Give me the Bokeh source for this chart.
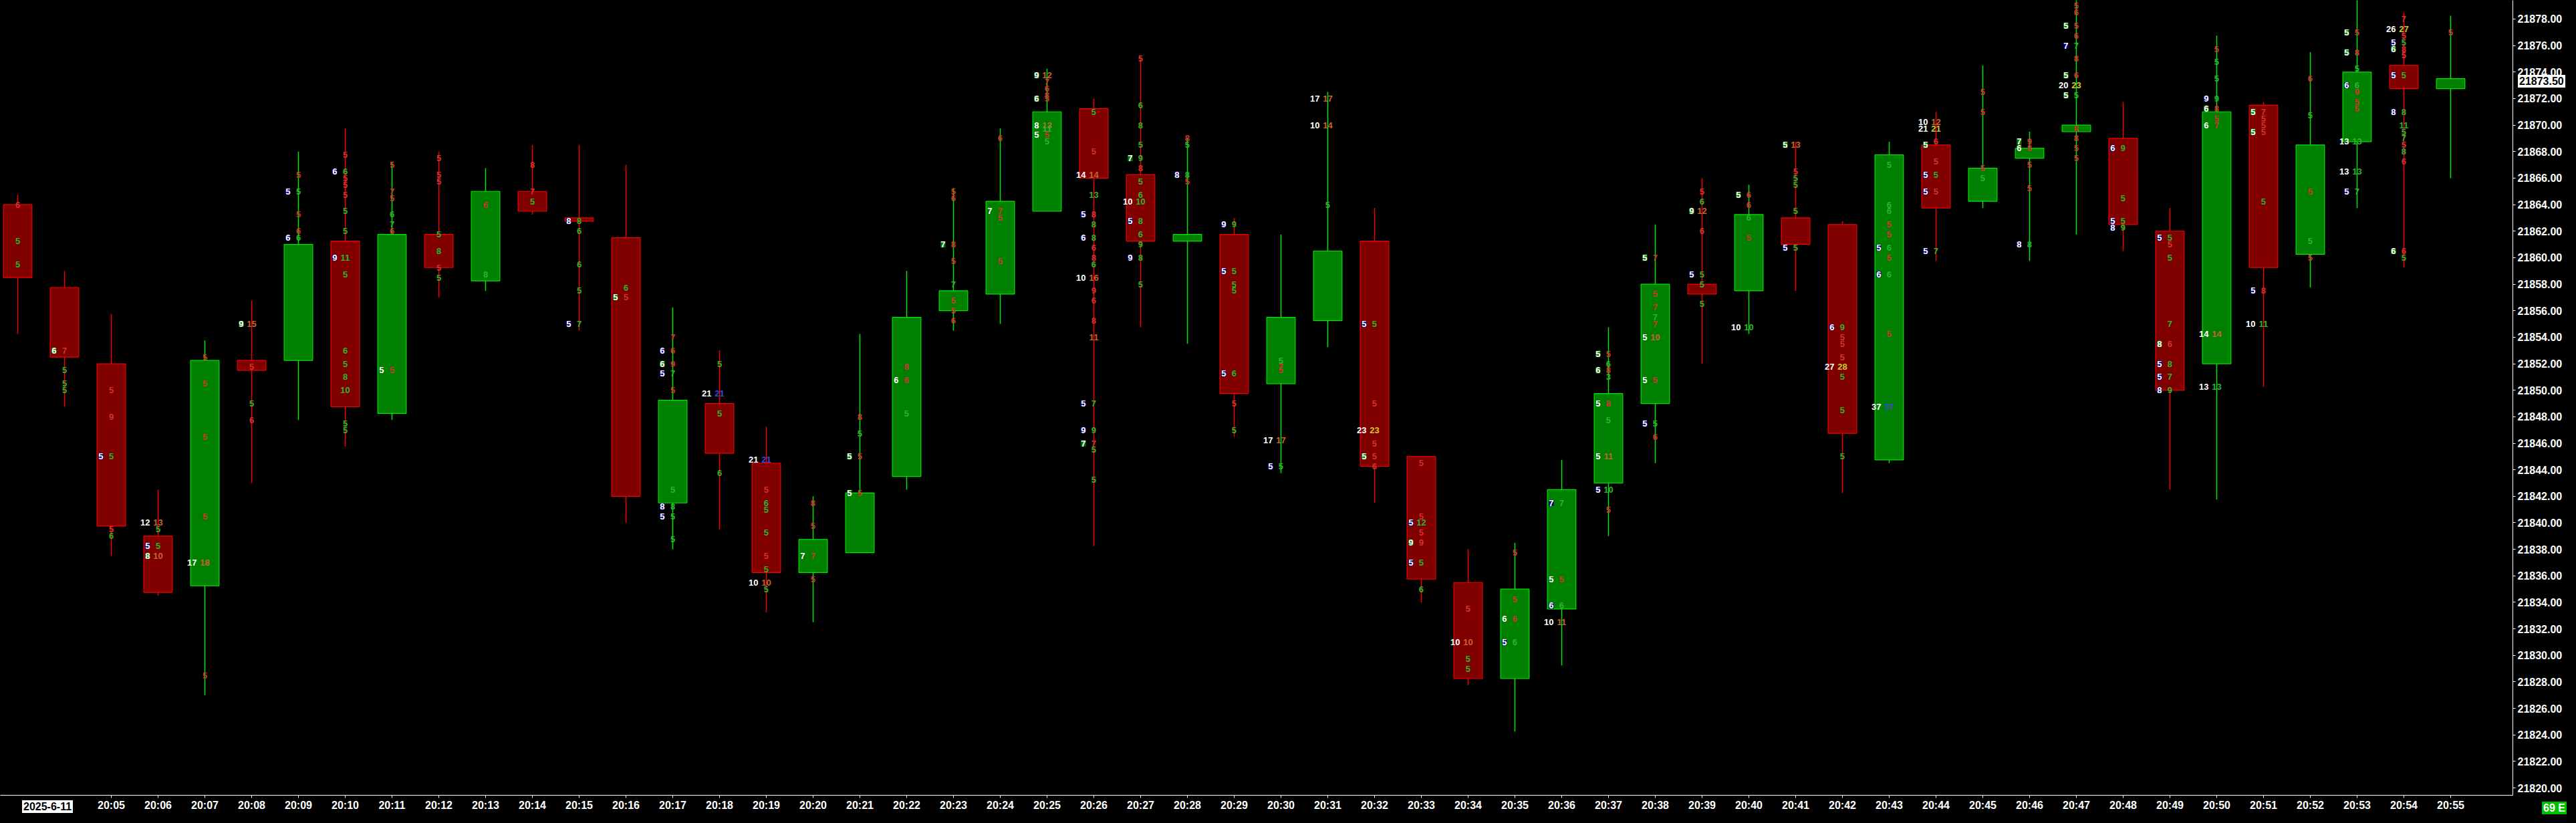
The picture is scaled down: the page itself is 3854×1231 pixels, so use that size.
from bokeh.core.properties import value
from bokeh.embed import file_html
from bokeh.layouts import column
from bokeh.models import (ColumnDataSource, Div, FixedTicker, GlobalInlineStyleSheet,
                          NumeralTickFormatter, Range1d)
from bokeh.plotting import figure
from bokeh.resources import INLINE

# one-minute bars, 20:03 .. 20:55 (2025-6-11)
times = ["20:%02d" % m for m in range(3, 56)]
opens = [21864, 21857.75, 21852, 21839, 21835.25, 21852.25, 21852.25, 21861.25, 21848.25, 21861.75,
         21858.25, 21865, 21863, 21861.5, 21841.5, 21849, 21844.5, 21836.25, 21837.75, 21843.5,
         21856, 21857.25, 21863.5, 21871.25, 21866.25, 21861.25, 21861.75, 21850.5, 21855.25, 21861.25,
         21845, 21835.5, 21828.25, 21833.5, 21843, 21849, 21858, 21857.5, 21863, 21862.5,
         21844.75, 21868.5, 21864.25, 21867.5, 21869.5, 21869, 21862, 21852, 21871.5, 21860.25,
         21868.75, 21874.5, 21872.75]
highs = [21864.75, 21859, 21855.75, 21842.5, 21853.75, 21856.75, 21868, 21869.75, 21867.25, 21868,
         21866.75, 21868.5, 21868.5, 21867, 21856.25, 21853, 21847.25, 21842, 21854.25, 21859,
         21865.25, 21869.75, 21874.25, 21872, 21875.25, 21869, 21863, 21861.75, 21872.5, 21863.75,
         21845, 21838, 21838.5, 21844.75, 21854.75, 21862.5, 21866, 21865.5, 21868.75, 21862.75,
         21868.75, 21871, 21874.5, 21869.5, 21880, 21871.75, 21863.75, 21876.75, 21871.75, 21875.5,
         21879.5, 21878.5, 21878.25]
lows = [21854.25, 21848.75, 21837.5, 21834.5, 21827, 21843, 21847.75, 21845.75, 21847.75, 21857,
        21857.5, 21863.25, 21854.5, 21840, 21838, 21839.5, 21833.25, 21832.5, 21837.75, 21842.5,
        21854.5, 21855, 21863.5, 21838.25, 21854.75, 21853.5, 21846.5, 21843.75, 21853.25, 21841.5,
        21834, 21827.75, 21824.25, 21829.25, 21839, 21844.5, 21852, 21854.25, 21857.5, 21842.25,
        21844.5, 21859.75, 21863.75, 21859.75, 21861.75, 21860.5, 21842.5, 21841.75, 21850.25, 21857.75,
        21863.75, 21859.25, 21866]
closes = [21858.5, 21852.5, 21839.75, 21834.75, 21852.25, 21851.5, 21861, 21848.75, 21861.75, 21859.25,
          21865, 21863.5, 21862.75, 21842, 21849.25, 21845.25, 21836.25, 21838.75, 21842.25, 21855.5,
          21857.5, 21864.25, 21871, 21866, 21861.25, 21861.75, 21849.75, 21855.5, 21860.5, 21844.25,
          21835.75, 21828.25, 21835, 21842.5, 21849.75, 21858, 21857.25, 21863.25, 21861, 21846.75,
          21867.75, 21863.75, 21866.75, 21868.25, 21870, 21862.5, 21850, 21871, 21859.25, 21868.5,
          21874, 21872.75, 21873.5]

last_price = "21873.50"
status_text = "69 E"
date_text = "2025-6-11"

# footprint volumes printed at the bar centre: (bar, price, text, colour)
centre_labels = [
    (0, 21864, "6", "r"), (0, 21861.25, "5", "g"), (0, 21859.5, "5", "g"),
    (1, 21853, "7", "r"), (1, 21851.5, "5", "g"), (1, 21850.5, "5", "g"), (1, 21850, "5", "g"),
    (2, 21850, "5", "r"), (2, 21848, "9", "r"), (2, 21845, "5", "g"), (2, 21839.5, "5", "r"), (2, 21839, "6", "g"),
    (3, 21840, "13", "o"), (3, 21839.5, "5", "g"), (3, 21838.25, "5", "g"), (3, 21837.5, "10", "o"),
    (4, 21852.5, "5", "r"), (4, 21850.5, "5", "r"), (4, 21846.5, "5", "r"), (4, 21840.5, "5", "r"),
    (4, 21837, "18", "o"), (4, 21828.5, "5", "r"),
    (5, 21855, "15", "o"), (5, 21851.75, "5", "r"), (5, 21849, "5", "g"), (5, 21847.75, "6", "r"),
    (6, 21866.25, "5", "r"), (6, 21865, "5", "g"), (6, 21863.25, "5", "r"), (6, 21862, "6", "r"), (6, 21861.5, "6", "g"),
    (7, 21867.75, "5", "r"), (7, 21866.5, "6", "g"), (7, 21866, "5", "r"), (7, 21865.5, "5", "r"), (7, 21864.75, "5", "r"),
    (7, 21863.5, "5", "g"), (7, 21862, "5", "g"), (7, 21860, "11", "g"), (7, 21858.75, "5", "g"), (7, 21853, "6", "g"),
    (7, 21852, "5", "g"), (7, 21851, "8", "g"), (7, 21850, "10", "g"), (7, 21847.5, "5", "g"), (7, 21847, "5", "g"),
    (8, 21867, "5", "r"), (8, 21865, "7", "r"), (8, 21864.5, "5", "r"), (8, 21863.25, "6", "g"), (8, 21862.5, "7", "g"),
    (8, 21862, "6", "r"), (8, 21851.5, "5", "r"),
    (9, 21867.5, "5", "r"), (9, 21866.25, "5", "r"), (9, 21865.75, "5", "r"), (9, 21861.75, "5", "g"),
    (9, 21860.5, "8", "g"), (9, 21859.25, "5", "r"), (9, 21858.5, "5", "g"),
    (10, 21864, "6", "r"), (10, 21858.75, "8", "g"),
    (11, 21867, "8", "r"), (11, 21865, "7", "r"), (11, 21864.25, "5", "g"),
    (12, 21862.75, "8", "g"), (12, 21862, "6", "g"), (12, 21859.5, "6", "g"), (12, 21857.5, "5", "g"), (12, 21855, "7", "g"),
    (13, 21857.75, "6", "g"), (13, 21857, "5", "r"),
    (14, 21854, "7", "r"), (14, 21853, "6", "r"), (14, 21852, "9", "r"), (14, 21851.25, "7", "g"), (14, 21850, "5", "r"),
    (14, 21842.5, "5", "g"), (14, 21841.25, "8", "g"), (14, 21840.5, "5", "g"), (14, 21838.75, "5", "g"),
    (15, 21852, "5", "g"), (15, 21849.75, "21", "b"), (15, 21848.25, "5", "g"), (15, 21843.75, "6", "g"),
    (16, 21844.75, "21", "b"), (16, 21842.5, "5", "r"), (16, 21841.5, "6", "g"), (16, 21841, "5", "g"),
    (16, 21839.25, "5", "g"), (16, 21837.5, "5", "r"), (16, 21836.5, "5", "g"), (16, 21835.5, "10", "o"), (16, 21835, "5", "g"),
    (17, 21841.5, "8", "r"), (17, 21839.75, "5", "r"), (17, 21837.5, "7", "r"), (17, 21835.75, "5", "r"),
    (18, 21848, "8", "r"), (18, 21846.75, "5", "g"), (18, 21845, "5", "r"), (18, 21842.25, "5", "r"),
    (19, 21851.75, "8", "r"), (19, 21850.75, "6", "r"), (19, 21848.25, "5", "g"),
    (20, 21865, "5", "r"), (20, 21864.5, "6", "r"), (20, 21861, "8", "r"), (20, 21859.75, "5", "r"), (20, 21858, "7", "g"),
    (20, 21856.75, "5", "r"), (20, 21856, "5", "r"), (20, 21855.25, "6", "r"),
    (21, 21869, "6", "r"), (21, 21863.5, "7", "r"), (21, 21863, "5", "r"), (21, 21859.75, "5", "r"),
    (22, 21873.75, "12", "o"), (22, 21873.25, "7", "r"), (22, 21872.75, "6", "r"), (22, 21872.25, "8", "r"),
    (22, 21872, "5", "r"), (22, 21870, "13", "o"), (22, 21869.75, "11", "g"), (22, 21869.25, "5", "r"), (22, 21868.75, "5", "g"),
    (23, 21871, "5", "g"), (23, 21868, "5", "r"), (23, 21866.25, "14", "o"), (23, 21864.75, "13", "g"), (23, 21863.25, "8", "r"),
    (23, 21862.5, "8", "g"), (23, 21861.5, "8", "g"), (23, 21860.75, "6", "r"), (23, 21860, "8", "r"), (23, 21859.5, "6", "g"),
    (23, 21858.5, "16", "o"), (23, 21857.5, "9", "r"), (23, 21856.75, "6", "r"), (23, 21855.25, "8", "r"), (23, 21854, "11", "o"),
    (23, 21849, "7", "g"), (23, 21847, "9", "g"), (23, 21846, "7", "r"), (23, 21845.5, "5", "g"), (23, 21843.25, "5", "g"),
    (24, 21875, "5", "r"), (24, 21871.5, "6", "g"), (24, 21870, "8", "g"), (24, 21868.5, "5", "g"), (24, 21867.5, "9", "g"),
    (24, 21866.75, "8", "r"), (24, 21865.75, "5", "g"), (24, 21864.75, "6", "g"), (24, 21864.25, "10", "g"),
    (24, 21862.75, "8", "g"), (24, 21861.75, "6", "g"), (24, 21861, "9", "g"), (24, 21860, "8", "g"), (24, 21858, "5", "g"),
    (25, 21869, "8", "r"), (25, 21868.5, "5", "g"), (25, 21866.25, "8", "g"), (25, 21865.75, "5", "r"),
    (26, 21862.5, "9", "g"), (26, 21859, "5", "g"), (26, 21858, "5", "g"), (26, 21857.5, "5", "g"),
    (26, 21851.25, "6", "g"), (26, 21849, "5", "r"), (26, 21847, "5", "g"),
    (27, 21852.25, "5", "g"), (27, 21851.75, "7", "r"), (27, 21851.5, "5", "r"), (27, 21846.25, "17", "o"), (27, 21844.25, "5", "g"),
    (28, 21872, "17", "o"), (28, 21870, "14", "o"), (28, 21864, "5", "g"),
    (29, 21855, "5", "g"), (29, 21849, "5", "r"), (29, 21847, "23", "y"), (29, 21846, "5", "r"), (29, 21845, "5", "r"), (29, 21844.25, "6", "r"),
    (30, 21844.5, "5", "r"), (30, 21840.5, "5", "r"), (30, 21840, "12", "g"), (30, 21839.25, "5", "r"),
    (30, 21838.5, "9", "r"), (30, 21837, "5", "g"), (30, 21835, "6", "g"),
    (31, 21833.5, "5", "r"), (31, 21831, "10", "o"), (31, 21829.75, "5", "g"), (31, 21829, "5", "g"),
    (32, 21837.75, "5", "r"), (32, 21834.25, "5", "r"), (32, 21832.75, "6", "r"), (32, 21831, "6", "g"),
    (33, 21841.5, "7", "g"), (33, 21835.75, "5", "r"), (33, 21833.75, "6", "g"), (33, 21832.5, "11", "o"),
    (34, 21852.75, "5", "r"), (34, 21852, "6", "g"), (34, 21851.5, "8", "r"), (34, 21851, "3", "g"), (34, 21849, "8", "r"),
    (34, 21847.75, "5", "g"), (34, 21845, "11", "o"), (34, 21842.5, "10", "g"), (34, 21841, "5", "r"),
    (35, 21860, "7", "r"), (35, 21857.25, "5", "r"), (35, 21856.25, "7", "r"), (35, 21855.5, "7", "g"), (35, 21855, "7", "r"),
    (35, 21854, "10", "o"), (35, 21850.75, "5", "r"), (35, 21847.5, "5", "g"), (35, 21846.5, "6", "r"),
    (36, 21865, "5", "r"), (36, 21864.25, "6", "g"), (36, 21863.5, "12", "o"), (36, 21862, "6", "r"),
    (36, 21858.75, "5", "g"), (36, 21858, "5", "g"), (36, 21856.5, "5", "g"),
    (37, 21864.75, "6", "r"), (37, 21864, "6", "r"), (37, 21863, "6", "g"), (37, 21861.5, "5", "r"), (37, 21854.75, "10", "g"),
    (38, 21868.5, "13", "o"), (38, 21866.5, "5", "r"), (38, 21866, "5", "g"), (38, 21865.5, "5", "g"),
    (38, 21863.5, "5", "g"), (38, 21860.75, "5", "g"),
    (39, 21854.75, "9", "g"), (39, 21854, "5", "r"), (39, 21853.5, "5", "r"), (39, 21852.5, "5", "r"),
    (39, 21851.75, "28", "y"), (39, 21851, "5", "g"), (39, 21848.5, "5", "g"), (39, 21845, "5", "g"),
    (40, 21867, "5", "g"), (40, 21864, "6", "g"), (40, 21863.5, "6", "g"), (40, 21862.5, "5", "r"), (40, 21861.75, "5", "r"),
    (40, 21860.75, "6", "g"), (40, 21860, "5", "r"), (40, 21858.75, "6", "g"), (40, 21854.25, "5", "r"), (40, 21848.75, "37", "b"),
    (41, 21870.25, "12", "o"), (41, 21869.75, "21", "y"), (41, 21868.75, "6", "r"), (41, 21867.25, "5", "r"),
    (41, 21866.25, "5", "g"), (41, 21865, "5", "r"), (41, 21860.5, "7", "g"),
    (42, 21872.5, "5", "r"), (42, 21871, "5", "r"), (42, 21866.75, "5", "r"), (42, 21866, "5", "g"),
    (43, 21868.75, "9", "r"), (43, 21868.25, "8", "r"), (43, 21867, "5", "r"), (43, 21865.25, "5", "r"), (43, 21861, "8", "g"),
    (44, 21879, "5", "r"), (44, 21878.5, "6", "r"), (44, 21877.5, "5", "r"), (44, 21876.75, "6", "r"), (44, 21876, "7", "g"),
    (44, 21875, "8", "r"), (44, 21873.75, "6", "r"), (44, 21873, "23", "y"), (44, 21872.25, "5", "g"),
    (44, 21869.75, "8", "r"), (44, 21869, "8", "r"), (44, 21868.25, "5", "r"), (44, 21867.5, "5", "r"),
    (45, 21868.25, "9", "g"), (45, 21864.5, "5", "g"), (45, 21862.75, "5", "g"), (45, 21862.25, "9", "g"),
    (46, 21861.5, "5", "g"), (46, 21861, "5", "r"), (46, 21860, "5", "g"), (46, 21855, "7", "g"), (46, 21853.5, "6", "r"),
    (46, 21852, "8", "g"), (46, 21851, "7", "g"), (46, 21850, "9", "g"),
    (47, 21875.75, "5", "r"), (47, 21874.75, "5", "g"), (47, 21873.5, "5", "g"), (47, 21872, "9", "g"), (47, 21871.25, "8", "r"),
    (47, 21870.5, "5", "r"), (47, 21870, "7", "r"), (47, 21854.25, "14", "o"), (47, 21850.25, "13", "g"),
    (48, 21871, "7", "r"), (48, 21870.5, "5", "r"), (48, 21870, "5", "r"), (48, 21869.5, "5", "r"), (48, 21864.25, "5", "g"),
    (48, 21857.5, "8", "r"), (48, 21855, "11", "g"),
    (49, 21873.5, "6", "r"), (49, 21870.75, "5", "g"), (49, 21865, "5", "r"), (49, 21861.25, "5", "g"), (49, 21860, "5", "r"),
    (50, 21877, "5", "r"), (50, 21875.5, "8", "r"), (50, 21874.25, "5", "g"), (50, 21873, "6", "g"), (50, 21872.5, "9", "r"),
    (50, 21871.75, "5", "r"), (50, 21871.25, "5", "r"), (50, 21868.75, "13", "g"), (50, 21866.5, "13", "g"), (50, 21865, "7", "g"),
    (51, 21878, "7", "r"), (51, 21877.25, "27", "y"), (51, 21876.75, "5", "r"), (51, 21876.25, "5", "g"), (51, 21875.75, "8", "r"),
    (51, 21875.25, "5", "r"), (51, 21873.75, "5", "g"), (51, 21871, "8", "g"), (51, 21870, "11", "g"), (51, 21869.5, "5", "g"),
    (51, 21869, "7", "g"), (51, 21868.5, "5", "r"), (51, 21868, "8", "g"), (51, 21867.25, "6", "r"), (51, 21860.5, "6", "r"),
    (51, 21860, "5", "g"),
    (52, 21877, "5", "r"),
]

# volumes printed at the left edge of the bar: (bar, price, text, box)
left_labels = [
    (1, 21853, "6", "g"), (2, 21845, "5", "n"), (3, 21840, "12", ""), (3, 21838.25, "5", "n"), (3, 21837.5, "8", "g"),
    (4, 21837, "17", ""), (5, 21855, "9", "g"), (6, 21865, "5", "n"), (6, 21861.5, "6", "n"),
    (7, 21866.5, "6", "n"), (7, 21860, "9", "n"), (8, 21851.5, "5", "g"), (12, 21862.75, "8", "n"), (12, 21855, "5", "n"),
    (13, 21857, "5", "g"), (14, 21853, "6", "n"), (14, 21852, "6", "g"), (14, 21851.25, "5", "n"), (14, 21841.25, "8", "n"),
    (14, 21840.5, "5", "n"), (15, 21849.75, "21", ""), (16, 21844.75, "21", ""), (16, 21835.5, "10", ""),
    (17, 21837.5, "7", "g"), (18, 21845, "5", "g"), (18, 21842.25, "5", "g"), (19, 21850.75, "6", "g"),
    (20, 21861, "7", "g"), (21, 21863.5, "7", "g"), (22, 21873.75, "9", "g"), (22, 21872, "6", "g"), (22, 21870, "8", "g"),
    (22, 21869.25, "5", "g"), (23, 21866.25, "14", ""), (23, 21863.25, "5", "n"), (23, 21861.5, "6", "n"),
    (23, 21858.5, "10", ""), (23, 21849, "5", "n"), (23, 21847, "9", "n"), (23, 21846, "7", "g"),
    (24, 21867.5, "7", "g"), (24, 21864.25, "10", ""), (24, 21862.75, "5", "n"), (24, 21860, "9", "n"),
    (25, 21866.25, "8", "n"), (26, 21862.5, "9", "n"), (26, 21859, "5", "n"), (26, 21851.25, "5", "n"),
    (27, 21846.25, "17", ""), (27, 21844.25, "5", "n"), (28, 21872, "17", ""), (28, 21870, "10", ""),
    (29, 21855, "5", "n"), (29, 21847, "23", ""), (29, 21845, "5", "g"), (30, 21840, "5", "n"), (30, 21838.5, "9", "g"),
    (30, 21837, "5", "n"), (31, 21831, "10", ""), (32, 21832.75, "6", "g"), (32, 21831, "5", "n"),
    (33, 21841.5, "7", "n"), (33, 21835.75, "5", "g"), (33, 21833.75, "6", "n"), (33, 21832.5, "10", ""),
    (34, 21852.75, "5", "g"), (34, 21851.5, "6", "g"), (34, 21849, "5", "g"), (34, 21845, "5", "g"), (34, 21842.5, "5", "n"),
    (35, 21860, "5", "g"), (35, 21854, "5", "g"), (35, 21850.75, "5", "g"), (35, 21847.5, "5", "n"),
    (36, 21863.5, "9", "g"), (36, 21858.75, "5", "n"), (37, 21864.75, "5", "g"), (37, 21854.75, "10", ""),
    (38, 21868.5, "5", "g"), (38, 21860.75, "5", "n"), (39, 21854.75, "6", "n"), (39, 21851.75, "27", ""),
    (40, 21860.75, "5", "n"), (40, 21858.75, "6", "n"), (40, 21848.75, "37", ""),
    (41, 21870.25, "10", ""), (41, 21869.75, "21", ""), (41, 21868.5, "5", "g"), (41, 21866.25, "5", "n"),
    (41, 21865, "5", "n"), (41, 21860.5, "5", "n"), (43, 21868.75, "7", "g"), (43, 21868.25, "6", "g"), (43, 21861, "8", "n"),
    (44, 21877.5, "5", "g"), (44, 21876, "7", "n"), (44, 21873.75, "5", "g"), (44, 21873, "20", ""), (44, 21872.25, "5", "g"),
    (45, 21868.25, "6", "n"), (45, 21862.75, "5", "n"), (45, 21862.25, "8", "n"),
    (46, 21861.5, "5", "n"), (46, 21853.5, "8", "g"), (46, 21852, "5", "n"), (46, 21851, "5", "n"), (46, 21850, "8", "n"),
    (47, 21872, "9", "n"), (47, 21871.25, "6", "g"), (47, 21870, "6", "g"), (47, 21854.25, "14", ""), (47, 21850.25, "13", ""),
    (48, 21871, "5", "g"), (48, 21869.5, "5", "g"), (48, 21857.5, "5", "n"), (48, 21855, "10", ""),
    (50, 21877, "5", "g"), (50, 21875.5, "5", "g"), (50, 21873, "6", "n"), (50, 21868.75, "13", ""), (50, 21866.5, "13", ""),
    (50, 21865, "5", "n"), (51, 21877.25, "26", ""), (51, 21876.25, "5", "n"), (51, 21875.75, "6", "g"),
    (51, 21873.75, "5", "n"), (51, 21871, "8", "n"), (51, 21860.5, "6", "g"),
]

TEXT_COLOURS = {"r": "#d23232", "g": "#2db42d", "o": "#c8642d", "y": "#d2c82d", "b": "#3c46dc"}
BOX_COLOURS = {"n": "#000080", "g": "#007800"}
FONT = value("Liberation Sans")

idx = list(range(len(times)))
up = [c >= o for o, c in zip(opens, closes)]
src = ColumnDataSource(dict(
    x=idx, high=highs, low=lows,
    top=[max(o, c) for o, c in zip(opens, closes)],
    bottom=[min(o, c) for o, c in zip(opens, closes)],
    fill=["#008000" if u else "#800000" for u in up],
    edge=["#00e600" if u else "#f00000" for u in up],
))

# frame mapped 70 px per bar, ~19.83 px per point
p = figure(width=3838, height=1215, output_backend="svg", toolbar_location=None,
           x_range=Range1d(-0.3714, 53.329), y_range=Range1d(21819.45, 21879.41),
           y_axis_location="right", background_fill_color="black", border_fill_color="black",
           min_border_left=0, min_border_top=0, min_border_right=79, min_border_bottom=26)
p.outline_line_color = None
p.grid.visible = False

p.segment("x", "high", "x", "low", source=src, line_color="edge", line_width=1.5)
p.vbar(x="x", top="top", bottom="bottom", width=0.61, source=src,
       fill_color="fill", line_color="edge", line_width=1.2)

cx, cy, ct, cc = zip(*centre_labels)
p.text(list(cx), list(cy), text=list(ct), text_color=[TEXT_COLOURS[c] for c in cc],
       text_font=FONT, text_font_style="bold", text_font_size="13px",
       text_align="center", text_baseline="middle")

for box in ("n", "g", ""):
    rows = [r for r in left_labels if r[3] == box]
    lx, ly, lt, _ = zip(*rows)
    kw = {}
    if box:
        kw = dict(background_fill_color=BOX_COLOURS[box], padding=0)
    p.text(list(lx), list(ly), text=list(lt), text_color="white", x_offset=-12,
           text_font=FONT, text_font_style="bold", text_font_size="13px",
           text_align="right", text_baseline="middle", **kw)

for ax in (p.xaxis[0], p.yaxis[0]):
    ax.axis_line_color = "white"
    ax.major_tick_line_color = "white"
    ax.major_tick_out = 4
    ax.major_tick_in = 0
    ax.minor_tick_line_color = None
    ax.major_label_text_color = "white"
    ax.major_label_text_font = "Liberation Sans"
    ax.major_label_text_font_style = "bold"
    ax.major_label_text_font_size = "16px"

p.yaxis.ticker = FixedTicker(ticks=list(range(21820, 21880, 2)))
p.yaxis.formatter = NumeralTickFormatter(format="0.00")
p.yaxis.major_label_standoff = 3
p.xaxis.ticker = FixedTicker(ticks=idx[2:])
p.xaxis.major_label_overrides = {i: t for i, t in zip(idx, times)}
p.xaxis.major_label_standoff = 2


# boxed tags that sit on the axes (outside the plot frame, so not canvas labels)
def tag(text, left, top, fg, bg):
    return Div(text=text, styles={
        "position": "absolute", "left": "%dpx" % left, "top": "%dpx" % top,
        "color": fg, "background": bg, "font-family": "Liberation Sans",
        "font-weight": "bold", "font-size": "16px", "line-height": "19px",
        "padding": "0 2px", "z-index": "10", "white-space": "nowrap"})


page = column(
    p,
    tag(last_price, 3762, 107, "black", "white"),
    tag(date_text, 28, 1192, "black", "white"),
    tag(status_text, 3798, 1194, "white", "#00c000"),
    spacing=0,
)
page.stylesheets = [GlobalInlineStyleSheet(css="body { background: #000; }")]

open("out.html", "w").write(file_html(page, INLINE))
